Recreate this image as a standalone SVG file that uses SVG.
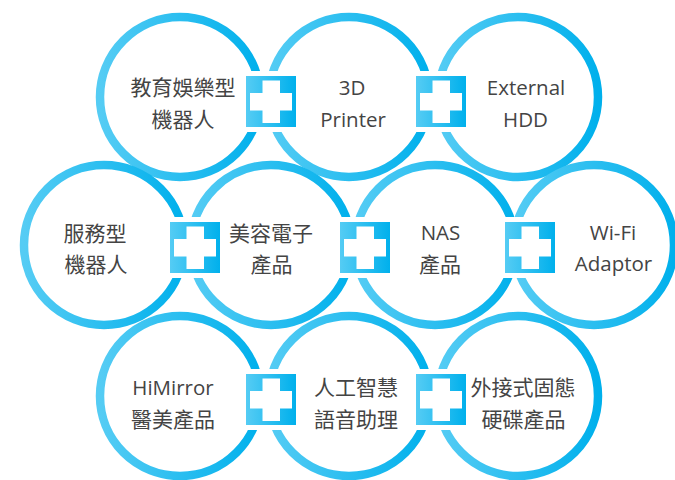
<svg xmlns="http://www.w3.org/2000/svg" width="675" height="480" viewBox="0 0 675 480">
  <defs>
    <linearGradient id="ringGrad" x1="0" y1="0" x2="1" y2="0">
      <stop offset="0" stop-color="#55CCF4"/>
      <stop offset="1" stop-color="#00B0EC"/>
    </linearGradient>
    <linearGradient id="boxGrad" x1="0" y1="0" x2="1" y2="0">
      <stop offset="0" stop-color="#55CCF4"/>
      <stop offset="1" stop-color="#00B0EC"/>
    </linearGradient>
    <g id="plus">
      <rect x="-5" y="-5" width="60" height="61" fill="#FFFFFF"/>
      <rect x="0" y="0" width="50" height="51" fill="url(#boxGrad)"/>
      <path d="M16.5 4.5 H34 V17 H46 V34.5 H34 V47 H16.5 V34.5 H4 V17 H16.5 Z" fill="#FFFFFF"/>
    </g>
  </defs>
  <style>
    .ring { fill: none; stroke: url(#ringGrad); stroke-width: 8.5; }
    .lbl { font-family: "Open Sans", "Noto Sans CJK TC", sans-serif; font-size: 20.5px; fill: #444444; text-anchor: middle; }
    .cjk { font-family: "Noto Sans CJK TC", "Noto Sans CJK SC", sans-serif; font-size: 21px; fill: #444444; text-anchor: middle; }
  </style>
  <rect width="675" height="480" fill="#FFFFFF"/>

  <g id="nodes">
    <g id="node-robot-edu">
      <circle class="ring" cx="180" cy="97" r="80"/>
    </g>
    <g id="node-3d-printer">
      <circle class="ring" cx="349" cy="97" r="80"/>
    </g>
    <g id="node-external-hdd">
      <circle class="ring" cx="518" cy="97" r="80"/>
    </g>
    <g id="node-robot-service">
      <circle class="ring" cx="104" cy="245" r="80"/>
    </g>
    <g id="node-beauty">
      <circle class="ring" cx="271" cy="245" r="80"/>
    </g>
    <g id="node-nas">
      <circle class="ring" cx="435" cy="245" r="80"/>
    </g>
    <g id="node-wifi">
      <circle class="ring" cx="594" cy="245" r="80"/>
    </g>
    <g id="node-himirror">
      <circle class="ring" cx="180" cy="396" r="80"/>
    </g>
    <g id="node-ai-voice">
      <circle class="ring" cx="349" cy="396" r="80"/>
    </g>
    <g id="node-ssd">
      <circle class="ring" cx="518" cy="396" r="80"/>
    </g>
  </g>

  <g id="connectors">
    <use href="#plus" x="246" y="76"/>
    <use href="#plus" x="416" y="76"/>
    <use href="#plus" x="170" y="222"/>
    <use href="#plus" x="340" y="222"/>
    <use href="#plus" x="505" y="222"/>
    <use href="#plus" x="246" y="374"/>
    <use href="#plus" x="416" y="374"/>
  </g>

  <g id="labels">
    <text class="cjk" x="183" y="95">教育娛樂型</text>
    <text class="cjk" x="183" y="127">機器人</text>
    <text class="lbl" x="352" y="95">3D</text>
    <text class="lbl" x="353" y="127">Printer</text>
    <text class="lbl" x="526" y="95">External</text>
    <text class="lbl" x="525.5" y="127">HDD</text>

    <text class="cjk" x="95" y="241">服務型</text>
    <text class="cjk" x="96" y="272">機器人</text>
    <text class="cjk" x="271" y="241">美容電子</text>
    <text class="cjk" x="271.5" y="272">產品</text>
    <text class="lbl" x="440.5" y="240">NAS</text>
    <text class="cjk" x="440" y="272">產品</text>
    <text class="lbl" x="613" y="240">Wi-Fi</text>
    <text class="lbl" x="613.5" y="271">Adaptor</text>

    <text class="lbl" x="173" y="395">HiMirror</text>
    <text class="cjk" x="173" y="427">醫美產品</text>
    <text class="cjk" x="356" y="395">人工智慧</text>
    <text class="cjk" x="356" y="427">語音助理</text>
    <text class="cjk" x="523" y="395">外接式固態</text>
    <text class="cjk" x="523.5" y="427">硬碟產品</text>
  </g>
</svg>
